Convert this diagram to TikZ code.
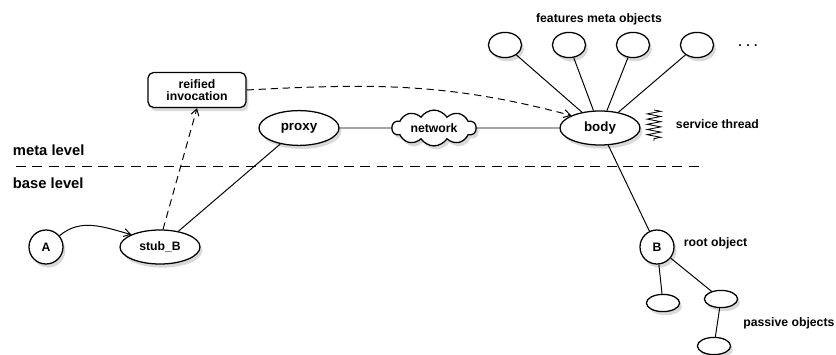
\documentclass[tikz,border=0pt]{standalone}
\usepackage{fontspec}
\setmainfont{Liberation Sans}
\usepackage{tikz}
\usetikzlibrary{positioning,arrows.meta}
\usetikzlibrary{shapes.geometric,shapes.symbols,shadows}
\usetikzlibrary{decorations.pathmorphing}

\begin{document}
\begin{tikzpicture}[x=0.025cm,y=-0.025cm,>={Straight Barb[length=1.6mm,width=2mm]},
  font=\bfseries\fontsize{8.7}{10}\selectfont,
  obj/.style={draw,line width=0.9pt,fill=white,inner sep=1pt,
    drop shadow={opacity=0.3,shadow xshift=0.6mm,shadow yshift=-0.9mm}},
  lnk/.style={line width=0.7pt},
  dsh/.style={dash pattern=on 0.18cm off 0.12cm}]
  \useasboundingbox (0,0) rectangle (836,355);

  % meta / base separation
  \node[anchor=west,font=\bfseries\fontsize{10.5}{12}\selectfont] (meta) at (8,150) {meta level};
  \node[anchor=west,font=\bfseries\fontsize{10.5}{12}\selectfont] (base) at (8,183) {base level};
  \coordinate (sepl) at (16,166);
  \coordinate (sepr) at (700,166);
  \draw[line width=0.6pt,dash pattern=on 0.25cm off 0.16cm] (sepl) -- (sepr);

  % base level objects
  \node[obj,circle,minimum size=0.85cm] (A) at (46,247) {A};
  \node[obj,ellipse,minimum width=2cm,minimum height=0.85cm] (stub) at (160,247) {stub\_B};

  % meta level
  \node[obj,rounded corners=4pt,minimum width=2.45cm,minimum height=0.875cm,align=center] (reif) at (197,90) {reified\\[-1pt]invocation};
  \node[obj,ellipse,minimum width=2cm,minimum height=0.87cm,font=\bfseries\fontsize{9.5}{11}\selectfont] (proxy) at (299,128) {proxy};
  \node[obj,cloud,cloud puffs=10,cloud puff arc=115,aspect=2.8,minimum width=2.1cm,minimum height=0.75cm] (net) at (434,128) {network};
  \node[obj,ellipse,minimum width=2cm,minimum height=0.85cm,font=\bfseries\fontsize{9.5}{11}\selectfont] (body) at (600,128) {body};

  % features meta objects
  \node (feat) at (599,19) {features meta objects};
  \foreach \i/\x in {1/505,2/569,3/633,4/697}{
    \node[obj,ellipse,minimum width=0.83cm,minimum height=0.63cm] (f\i) at (\x,45) {};
    \draw[lnk] (body) -- (f\i);
  }
  \node (dots) at (748,46) {. . .};

  % service thread
  \coordinate (thtop) at (654,110);
  \coordinate (thbot) at (654,141);
  \draw[line width=0.6pt,decorate,decoration={zigzag,amplitude=0.17cm,segment length=0.13cm}] (thtop) -- (thbot);
  \node[anchor=west] (serv) at (671,124) {service thread};

  % active object B and its passive objects
  \node[obj,circle,minimum size=0.85cm] (B) at (657,247) {B};
  \node[anchor=west] (root) at (679,243) {root object};
  \node[obj,ellipse,minimum width=0.83cm,minimum height=0.43cm] (p1) at (663,303) {};
  \node[obj,ellipse,minimum width=0.83cm,minimum height=0.43cm] (p2) at (721,299) {};
  \node[obj,ellipse,minimum width=0.83cm,minimum height=0.43cm] (p3) at (714,346) {};
  \node[anchor=west,inner sep=0pt] (pass) at (743,323) {passive objects};

  % connections
  \draw[lnk,->] (A) to[out=40,in=165] (stub.north west);
  \draw[lnk,->,dsh] (stub.north) ++(3,0) -- (reif.south);
  \draw[lnk] (stub) -- (proxy);
  \draw[lnk] (proxy) -- (net);
  \draw[lnk] (net) -- (body);
  \draw[lnk,->,dsh] (reif.east) to[out=3,in=165] (body.north west);
  \draw[lnk] (body) -- (B);
  \draw[lnk] (B) -- (p1);
  \draw[lnk] (B) -- (p2);
  \draw[lnk] (p2) -- (p3);
\end{tikzpicture}
\end{document}
